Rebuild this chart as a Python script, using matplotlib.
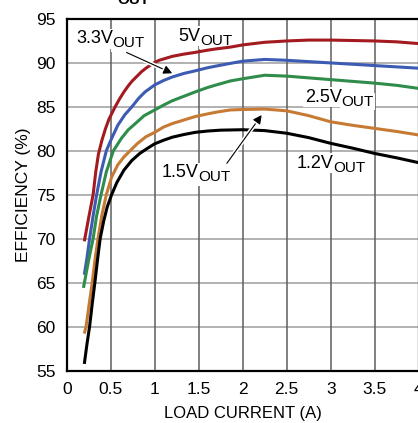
import matplotlib
matplotlib.use("Agg")
import matplotlib.pyplot as plt
import matplotlib.patheffects as pe
from matplotlib import font_manager
from matplotlib.transforms import offset_copy

# efficiency curves
load_5v = [0.20, 0.25, 0.30, 0.33, 0.36, 0.40, 0.44, 0.48, 0.55, 0.60, 0.65,
           0.70, 0.74, 0.80, 0.85, 0.90, 0.98, 1.05, 1.20, 1.33, 1.46, 1.60,
           1.70, 1.86, 2.00, 2.25, 2.50, 2.75, 3.00, 3.25, 3.50, 3.75, 4.00]
eff_5v = [69.7, 72.4, 75.0, 77.6, 79.6, 81.2, 82.5, 83.6, 85.0, 85.9, 86.7,
          87.4, 87.9, 88.5, 89.0, 89.4, 89.95, 90.3, 90.75, 91.0, 91.2, 91.45,
          91.6, 91.8, 92.05, 92.35, 92.5, 92.6, 92.6, 92.55, 92.5, 92.4, 92.2]

load_3v3 = [0.20, 0.23, 0.26, 0.30, 0.34, 0.39, 0.45, 0.51, 0.58, 0.66, 0.74,
            0.82, 0.89, 1.00, 1.10, 1.20, 1.33, 1.46, 1.60, 1.70, 1.86, 2.00,
            2.25, 2.50, 2.75, 3.00, 3.25, 3.50, 3.75, 4.00]
eff_3v3 = [65.9, 67.8, 70.0, 72.6, 75.0, 77.6, 80.0, 81.4, 82.9, 84.1, 85.0,
           86.0, 86.7, 87.5, 88.0, 88.4, 88.8, 89.1, 89.45, 89.65, 89.95, 90.2,
           90.4, 90.3, 90.15, 90.0, 89.85, 89.7, 89.55, 89.4]

load_2v5 = [0.19, 0.22, 0.25, 0.30, 0.34, 0.39, 0.45, 0.53, 0.62, 0.70, 0.78,
            0.88, 1.00, 1.10, 1.20, 1.33, 1.46, 1.60, 1.70, 1.86, 2.00, 2.25,
            2.50, 2.75, 3.00, 3.25, 3.50, 3.75, 4.00]
eff_2v5 = [64.4, 66.0, 67.6, 70.0, 72.6, 75.0, 77.6, 80.0, 81.4, 82.4, 83.1,
           84.0, 84.65, 85.2, 85.7, 86.2, 86.7, 87.2, 87.5, 87.95, 88.2, 88.6,
           88.5, 88.3, 88.1, 87.9, 87.7, 87.45, 87.1]

load_1v5 = [0.20, 0.22, 0.25, 0.29, 0.32, 0.355, 0.40, 0.45, 0.51, 0.58, 0.65,
            0.72, 0.80, 0.90, 1.00, 1.10, 1.20, 1.33, 1.46, 1.60, 1.70, 1.86,
            2.00, 2.25, 2.50, 2.75, 3.00, 3.25, 3.50, 3.75, 4.00]
eff_1v5 = [59.2, 60.0, 62.2, 65.0, 67.5, 70.0, 72.7, 75.0, 77.0, 78.4, 79.3,
           80.0, 80.8, 81.6, 82.1, 82.7, 83.1, 83.5, 83.9, 84.2, 84.4, 84.65,
           84.7, 84.75, 84.55, 84.0, 83.3, 82.9, 82.55, 82.2, 81.8]

load_1v2 = [0.20, 0.23, 0.26, 0.29, 0.32, 0.35, 0.38, 0.42, 0.46, 0.51, 0.57,
            0.65, 0.74, 0.83, 0.92, 1.00, 1.10, 1.20, 1.33, 1.46, 1.60, 1.75,
            2.00, 2.25, 2.50, 2.75, 3.00, 3.25, 3.50, 3.75, 4.00]
eff_1v2 = [55.75, 58.0, 60.0, 62.6, 65.0, 67.6, 70.0, 72.0, 73.6, 75.0, 76.4,
           77.8, 78.9, 79.7, 80.3, 80.8, 81.2, 81.55, 81.85, 82.1, 82.25, 82.35,
           82.4, 82.3, 82.0, 81.5, 80.85, 80.3, 79.7, 79.2, 78.65]

x_ticks = [0, 0.5, 1, 1.5, 2, 2.5, 3, 3.5, 4]
x_tick_labels = ["0", "0.5", "1", "1.5", "2", "2.5", "3", "3.5", "4"]
y_ticks = [55, 60, 65, 70, 75, 80, 85, 90, 95]

names = [f.name for f in font_manager.fontManager.ttflist]
if "Liberation Sans Narrow" in names:
    plt.rcParams["font.family"] = ["Liberation Sans Narrow", "DejaVu Sans"]
else:
    plt.rcParams["font.family"] = ["Liberation Sans", "DejaVu Sans"]

fig = plt.figure(figsize=(4.18, 4.23), dpi=100)
ax = fig.add_axes([0.1596, 0.1241, 0.8421, 0.831])

curve_kw = dict(lw=2.2, solid_capstyle="butt", solid_joinstyle="round", zorder=6)
ax.plot(load_5v, eff_5v, color="#a31b20", **curve_kw)
ax.plot(load_3v3, eff_3v3, color="#3d5bb3", **curve_kw)
ax.plot(load_2v5, eff_2v5, color="#2f8c4a", **curve_kw)
ax.plot(load_1v5, eff_1v5, color="#c77a34", **curve_kw)
ax.plot(load_1v2, eff_1v2, color="black", **curve_kw)

ax.set_xlim(0, 4)
ax.set_ylim(55, 95)
ax.set_xticks(x_ticks)
ax.set_xticklabels(x_tick_labels)
ax.set_yticks(y_ticks)
ax.tick_params(length=0, labelsize=12.5, pad=8)

# horizontal grid lighter than the vertical one
for v in y_ticks[1:-1]:
    ax.axhline(v, color="#9c9c9c", lw=1.1, zorder=1)
for v in x_ticks[1:-1]:
    ax.axvline(v, color="#5e5e5e", lw=1.1, zorder=1)

for s in ax.spines.values():
    s.set_linewidth(1.6)
    s.set_color("black")

ax.set_xlabel("LOAD CURRENT (A)", fontsize=12, labelpad=7)
ax.set_ylabel("EFFICIENCY (%)", fontsize=12.5, labelpad=4)


def vout_label(x, y, main):
    # main text ends at (x, y), OUT subscript starts there a bit lower
    bb = dict(facecolor="white", edgecolor="none", pad=1.0)
    ax.text(x, y, main, fontsize=13, ha="right", va="baseline", zorder=5, bbox=bb)
    tr = offset_copy(ax.transData, fig=fig, x=0, y=-3.0, units="points")
    ax.text(x, y, "OUT", fontsize=11, ha="left", va="baseline", transform=tr,
            zorder=5, bbox=bb)


vout_label(0.523, 92.24, "3.3V")
vout_label(1.515, 92.53, "5V")
vout_label(3.125, 85.59, "2.5V")
vout_label(3.03, 78.08, "1.2V")
vout_label(1.495, 76.99, "1.5V")

stroke = [pe.withStroke(linewidth=3, foreground="white")]
ax.annotate("", xy=(1.20, 88.82), xytext=(0.68, 91.19), zorder=7,
            arrowprops=dict(arrowstyle="-|>", color="black", lw=0.8,
                            mutation_scale=13, shrinkA=0, shrinkB=0,
                            path_effects=stroke))
ax.annotate("", xy=(2.216, 84.08), xytext=(1.82, 78.58), zorder=7,
            arrowprops=dict(arrowstyle="-|>", color="black", lw=0.8,
                            mutation_scale=13, shrinkA=0, shrinkB=0,
                            path_effects=stroke))

# bottom of the cut-off title
fig.text(117 / 418, 1 - 3.5 / 423, "OUT", fontsize=11, fontweight="bold",
         va="baseline", ha="left")

fig.savefig("out.png", dpi=100)
